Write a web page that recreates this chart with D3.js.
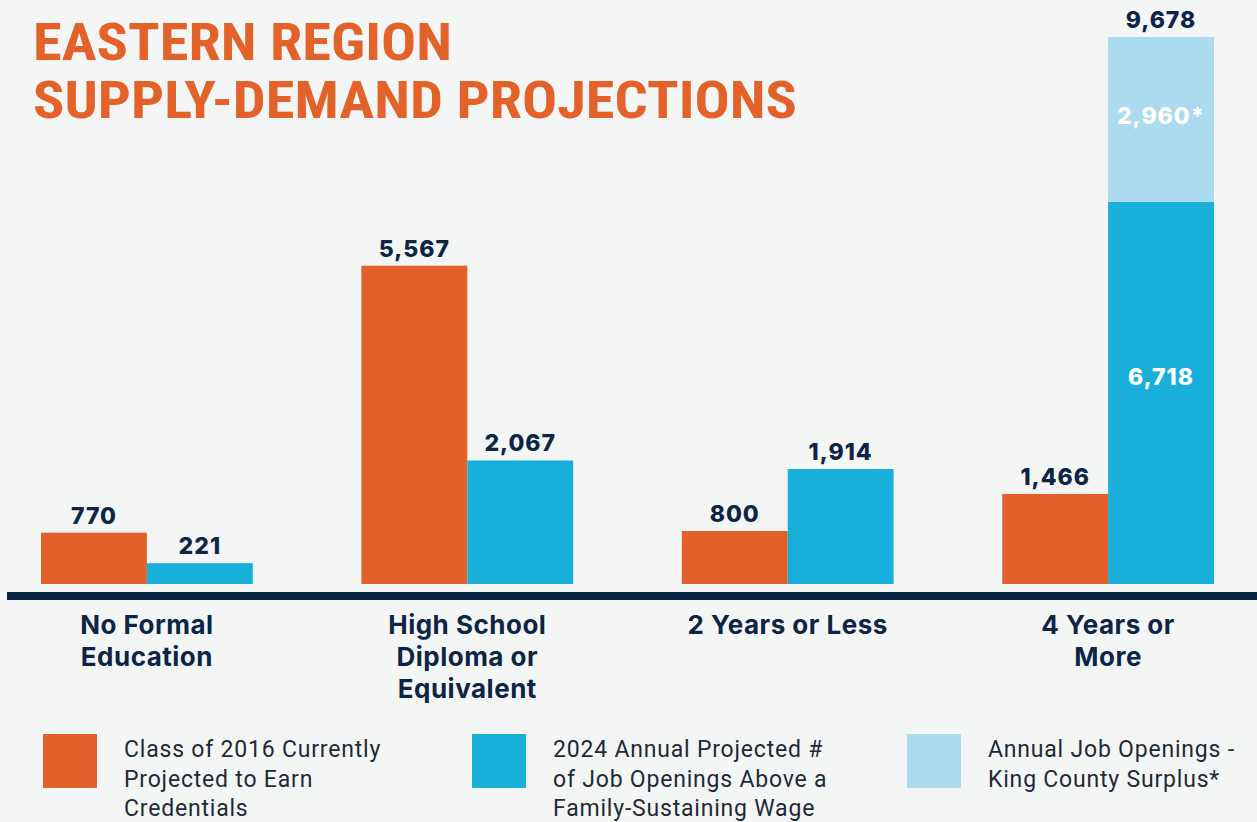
<!DOCTYPE html>
<html>
<head>
<meta charset="utf-8">
<script src="https://cdn.jsdelivr.net/npm/d3@7"></script>
<style>
  html, body { margin: 0; padding: 0; background: #f4f6f6; }
  svg { display: block; }
</style>
</head>
<body>
<div id="chart"></div>
<script>
// data
const categories = [
  ["No Formal", "Education"],
  ["High School", "Diploma or", "Equivalent"],
  ["2 Years or Less"],
  ["4 Years or", "More"]
];
const supply = [770, 5567, 800, 1466];          // Class of 2016 projected to earn credentials
const demand = [221, 2067, 1914, 6718];         // 2024 annual projected openings
const surplus = [0, 0, 0, 2960];                // King County surplus
const legendLabels = [
  ["Class of 2016 Currently", "Projected to Earn", "Credentials"],
  ["2024 Annual Projected #", "of Job Openings Above a", "Family-Sustaining Wage"],
  ["Annual Job Openings -", "King County Surplus*"]
];

const W = 1257, H = 822;
const ORANGE = "#e2612a", BLUE = "#18b0da", LIGHT = "#acdaef", NAVY = "#0c2545";
const boldFont = "Inter, Roboto, 'DejaVu Sans', sans-serif";
const BASE = 584;

const svg = d3.select("#chart").append("svg").attr("width", W).attr("height", H);
svg.append("rect").attr("width", W).attr("height", H).attr("fill", "#f4f6f6");

// title
const title = svg.append("g").attr("fill", "#e3622a")
  .style("font-family", "'Liberation Sans Narrow', 'Roboto Condensed', 'Liberation Sans', sans-serif")
  .style("font-weight", "bold").style("font-size", "52px");
title.append("text").attr("x", 33).attr("y", 60).attr("textLength", 419).attr("lengthAdjust", "spacingAndGlyphs").text("EASTERN REGION");
title.append("text").attr("x", 33).attr("y", 118).attr("textLength", 764).attr("lengthAdjust", "spacingAndGlyphs").text("SUPPLY-DEMAND PROJECTIONS");

const x = d3.scaleBand().domain(d3.range(categories.length)).range([41, 1214]).paddingInner(0.339);
// bars start a few px below zero on the baseline
const y = d3.scaleLinear().domain([0, 9678]).range([575.5, 37]);
const half = x.bandwidth() / 2;

const g = svg.append("g");

// orange bars
g.selectAll("rect.supply").data(supply).join("rect").attr("class", "supply")
  .attr("x", (d, i) => x(i)).attr("width", half)
  .attr("y", d => y(d)).attr("height", d => BASE - y(d)).attr("fill", ORANGE);

// blue bars
g.selectAll("rect.demand").data(demand).join("rect").attr("class", "demand")
  .attr("x", (d, i) => x(i) + half).attr("width", half)
  .attr("y", d => y(d)).attr("height", d => BASE - y(d)).attr("fill", BLUE);

// surplus stacked on blue
const surplusData = surplus.map((v, i) => ({ i, v, base: demand[i] })).filter(d => d.v > 0);
g.selectAll("rect.surplus").data(surplusData).join("rect").attr("class", "surplus")
  .attr("x", d => x(d.i) + half).attr("width", half)
  .attr("y", d => y(d.v + d.base)).attr("height", d => y(d.base) - y(d.v + d.base)).attr("fill", LIGHT);

const fmt = d3.format(",");
const lbl = svg.append("g").style("font-family", boldFont).style("font-weight", 800)
  .style("font-size", "23px").style("letter-spacing", "1px").attr("text-anchor", "middle");

// labels above bars
supply.forEach((v, i) => {
  lbl.append("text").attr("x", x(i) + half / 2).attr("y", y(v) - 9).attr("fill", NAVY).text(fmt(v));
});
demand.forEach((v, i) => {
  const top = v + surplus[i];
  lbl.append("text").attr("x", x(i) + half * 1.5).attr("y", y(top) - 9).attr("fill", NAVY).text(fmt(top));
  if (surplus[i] > 0) {
    lbl.append("text").attr("x", x(i) + half * 1.5).attr("y", (BASE + y(v)) / 2 - 8).attr("fill", "#fff").text(fmt(v));
    lbl.append("text").attr("x", x(i) + half * 1.5).attr("y", (y(v) + y(top)) / 2 + 5).attr("fill", "#fff").text(fmt(surplus[i]) + "*");
  }
});

// axis line
svg.append("line").attr("x1", 7).attr("x2", W).attr("y1", 596).attr("y2", 596)
  .attr("stroke", NAVY).attr("stroke-width", 8);

// category labels
const cat = svg.append("g").style("font-family", boldFont).style("font-weight", 700)
  .style("font-size", "26px").style("letter-spacing", "0.5px").attr("text-anchor", "middle").attr("fill", NAVY);
categories.forEach((lines, i) => {
  const t = cat.append("text").attr("x", x(i) + half).attr("y", 634);
  lines.forEach((l, j) => t.append("tspan").attr("x", x(i) + half).attr("dy", j ? 32 : 0).text(l));
});

// legend
const legendX = [43, 472, 907];
const legendColors = [ORANGE, BLUE, LIGHT];
const leg = svg.append("g").style("font-family", "Roboto, 'Liberation Sans', sans-serif")
  .style("font-size", "23px").style("letter-spacing", "0.8px").attr("fill", "#1f2a36");
legendLabels.forEach((lines, i) => {
  leg.append("rect").attr("x", legendX[i]).attr("y", 734).attr("width", 54).attr("height", 54).attr("fill", legendColors[i]);
  const t = leg.append("text").attr("x", legendX[i] + 81).attr("y", 757);
  lines.forEach((l, j) => t.append("tspan").attr("x", legendX[i] + 81).attr("dy", j ? 29.5 : 0).text(l));
});
</script>
</body>
</html>
